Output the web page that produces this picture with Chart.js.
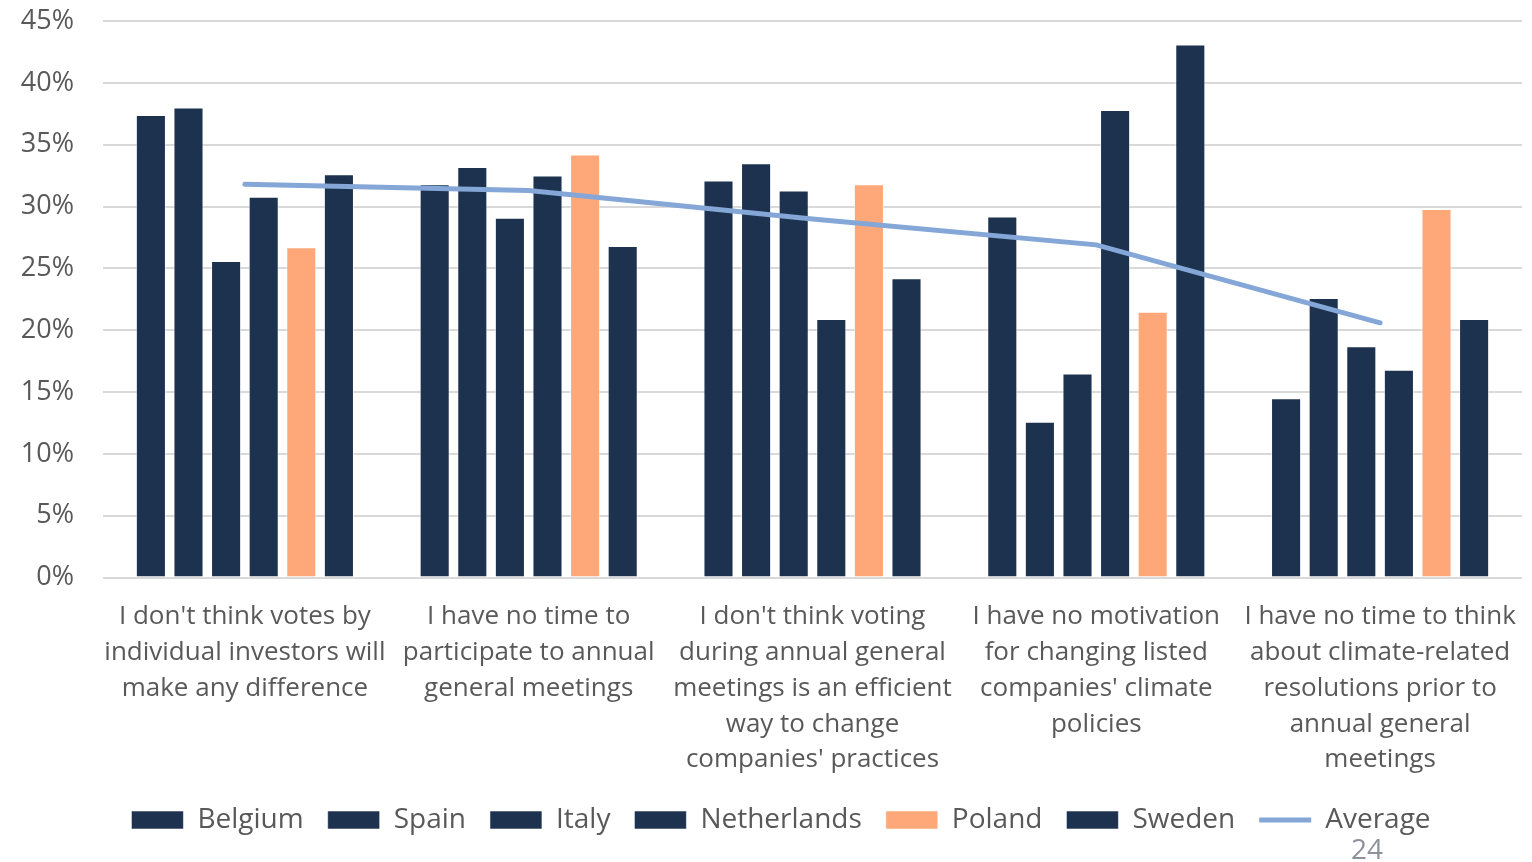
<!DOCTYPE html>
<html>
<head>
<meta charset="utf-8">
<script src="https://cdn.jsdelivr.net/npm/chart.js@4.4.1/dist/chart.umd.min.js"></script>
<style>
    html, body { margin: 0; padding: 0; background: #ffffff; }
    #wrap { position: relative; width: 1532px; height: 862px; }
    #page-num {
        position: absolute; left: 1351px; top: 829px;
        font-family: "Open Sans", sans-serif; font-size: 28px; color: #8c929c;
    }
</style>
</head>
<body>
<div id="wrap">
    <canvas id="chart" width="1532" height="862"></canvas>
    <div id="page-num">24</div>
</div>
<script>
/** Reasons for not voting, share of respondents per country. */
const categories = [
    ["I don't think votes by", "individual investors will", "make any difference"],
    ["I have no time to", "participate to annual", "general meetings"],
    ["I don't think voting", "during annual general", "meetings is an efficient", "way to change", "companies' practices"],
    ["I have no motivation", "for changing listed", "companies' climate", "policies"],
    ["I have no time to think", "about climate-related", "resolutions prior to", "annual general", "meetings"],
];

const belgium = [37.4, 31.8, 32.1, 29.2, 14.5];
const spain = [38.0, 33.2, 33.5, 12.6, 22.6];
const italy = [25.6, 29.1, 31.3, 16.5, 18.7];
const netherlands = [30.8, 32.5, 20.9, 37.8, 16.8];
const poland = [26.7, 34.2, 31.8, 21.5, 29.8];
const sweden = [32.6, 26.8, 24.2, 43.1, 20.9];
const average = [31.8, 31.3, 29.0, 26.9, 20.6];

const yTicks = [0, 5, 10, 15, 20, 25, 30, 35, 40, 45];

const NAVY = "#1d324f";
const SALMON = "#fea879";
const AVG_BLUE = "#84a7d7";
const TEXT = "#595959";
const FONT = "'Open Sans', sans-serif";

// bar datasets share everything except label, data and colour
const barSet = (label, data, color) => ({
    type: "bar", label: label, data: data,
    backgroundColor: color, borderColor: "rgba(255,255,255,0.55)", borderWidth: 1,
    pointStyle: "rect", order: 1,
    categoryPercentage: 0.795, barPercentage: 0.8,
});

// nudge the legend a bit right, it is not centred on the canvas in the original
const legendShift = {
    id: "legendShift",
    afterLayout: (chart) => {
        chart.legend.left += 20;
        chart.legend.right += 20;
    },
};

const ctx = document.getElementById("chart").getContext("2d");
const chart = new Chart(ctx, {
    type: "bar",
    data: {
        labels: categories,
        datasets: [
            barSet("Belgium", belgium, NAVY),
            barSet("Spain", spain, NAVY),
            barSet("Italy", italy, NAVY),
            barSet("Netherlands", netherlands, NAVY),
            barSet("Poland", poland, SALMON),
            barSet("Sweden", sweden, NAVY),
            {
                type: "line", label: "Average", data: average,
                borderColor: AVG_BLUE, backgroundColor: AVG_BLUE, borderWidth: 5,
                borderCapStyle: "round", tension: 0, pointRadius: 0,
                pointStyle: "line", order: 0,
            },
        ],
    },
    plugins: [legendShift],
    options: {
        responsive: false, animation: false,
        layout: { padding: { left: 0, right: 10, top: 0, bottom: 18 } },
        scales: {
            x: {
                afterFit: (axis) => {
                    axis.paddingLeft = 0;
                    axis.paddingRight = 0;
                    axis.height -= 9;
                },
                grid: { display: false },
                border: { display: false },
                ticks: {
                    color: TEXT, font: { family: FONT, size: 26, lineHeight: 1.38 },
                    padding: 13, maxRotation: 0, autoSkip: false,
                },
            },
            y: {
                min: 0, max: 45,
                afterBuildTicks: (axis) => { axis.ticks = yTicks.map((v) => ({ value: v })); },
                afterFit: (axis) => {
                    axis.width = 103;
                    axis.paddingTop = 21;
                    axis.paddingBottom = 0;
                },
                grid: { color: "#d9d9d9", lineWidth: 2, drawTicks: false },
                border: { display: false },
                ticks: { color: TEXT, font: { family: FONT, size: 27 }, padding: 29, callback: (v) => v + "%" },
            },
        },
        plugins: {
            tooltip: { enabled: false },
            legend: {
                position: "bottom",
                labels: {
                    usePointStyle: true, pointStyleWidth: 52, boxHeight: 18,
                    color: TEXT, font: { family: FONT, size: 28, lineHeight: 1.0 }, padding: 24,
                    sort: (a, b) => a.datasetIndex - b.datasetIndex,
                },
            },
        },
    },
});
</script>
</body>
</html>
